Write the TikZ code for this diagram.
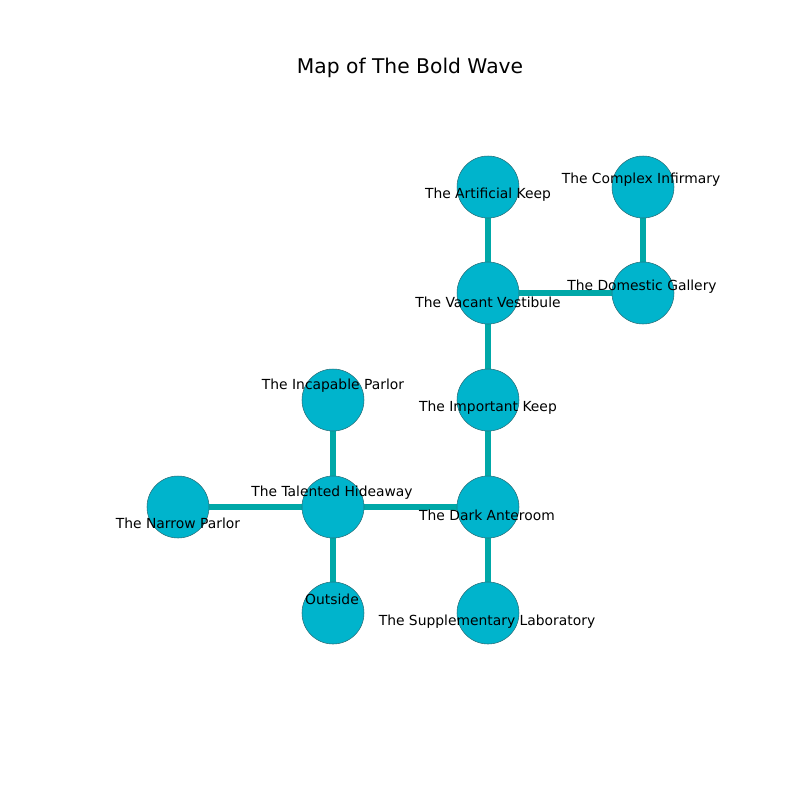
\documentclass[tikz,border=0pt]{standalone}
\usepackage{fontspec}
\setmainfont{DejaVu Sans}
\definecolor{nodefill}{RGB}{0,180,204}
\definecolor{edgecol}{RGB}{0,168,168}
\definecolor{nodeline}{RGB}{40,110,120}
\begin{document}
\begin{tikzpicture}[x=0.75pt,y=-0.75pt,
  room/.style={circle,fill=nodefill,draw=nodeline,line width=0.4pt,minimum size=46.5pt,inner sep=0pt},
  link/.style={draw=edgecol,line width=3.8pt},
  lbl/.style={font=\fontsize{10.4}{12}\selectfont,inner sep=0pt,anchor=center}]
\useasboundingbox (0,0) rectangle (800,800);
\fill[white] (0,0) rectangle (800,800);
\node[font=\fontsize{15.2}{18}\selectfont,inner sep=0pt] (title) at (410,68) {Map of The Bold Wave};
% coordinates
\coordinate (cAK) at (488,187);
\coordinate (cCI) at (643,187);
\coordinate (cVV) at (488,293);
\coordinate (cDG) at (643,293);
\coordinate (cIP) at (333,400);
\coordinate (cIK) at (488,400);
\coordinate (cNP) at (178,507);
\coordinate (cTH) at (333,507);
\coordinate (cDA) at (488,507);
\coordinate (cOU) at (333,613);
\coordinate (cSL) at (488,613);
% edges
\draw[link] (cAK) -- (cVV);
\draw[link] (cCI) -- (cDG);
\draw[link] (cVV) -- (cDG);
\draw[link] (cVV) -- (cIK);
\draw[link] (cIK) -- (cDA);
\draw[link] (cIP) -- (cTH);
\draw[link] (cNP) -- (cTH);
\draw[link] (cTH) -- (cDA);
\draw[link] (cTH) -- (cOU);
\draw[link] (cDA) -- (cSL);
% nodes
\node[room] (AK) at (cAK) {};
\node[room] (CI) at (cCI) {};
\node[room] (VV) at (cVV) {};
\node[room] (DG) at (cDG) {};
\node[room] (IP) at (cIP) {};
\node[room] (IK) at (cIK) {};
\node[room] (NP) at (cNP) {};
\node[room] (TH) at (cTH) {};
\node[room] (DA) at (cDA) {};
\node[room] (OU) at (cOU) {};
\node[room] (SL) at (cSL) {};
% labels
\node[lbl] (lAK) at (488,195) {The Artificial Keep};
\node[lbl] (lCI) at (641,180) {The Complex Infirmary};
\node[lbl] (lVV) at (488,302) {The Vacant Vestibule};
\node[lbl] (lDG) at (642,287) {The Domestic Gallery};
\node[lbl] (lIP) at (333,386) {The Incapable Parlor};
\node[lbl] (lIK) at (488,408) {The Important Keep};
\node[lbl] (lNP) at (178,523) {The Narrow Parlor};
\node[lbl] (lTH) at (332,493) {The Talented Hideaway};
\node[lbl] (lDA) at (487,515) {The Dark Anteroom};
\node[lbl] (lOU) at (332,599) {Outside};
\node[lbl] (lSL) at (487,622) {The Supplementary Laboratory};
\end{tikzpicture}
\end{document}
